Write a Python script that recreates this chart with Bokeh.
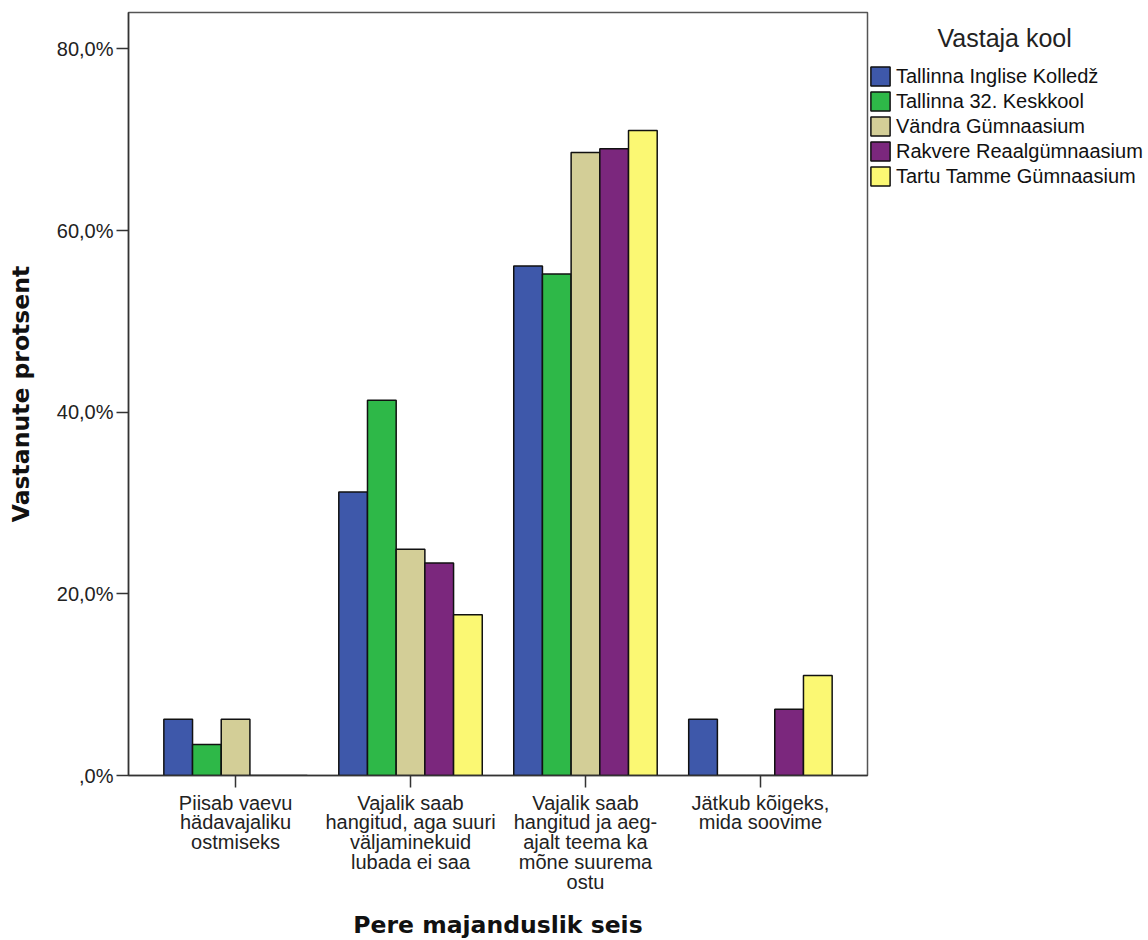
from bokeh.plotting import figure
from bokeh.models import FactorRange, Range1d, Legend, LegendItem, FixedTicker
from bokeh.transform import dodge
from bokeh.embed import file_html
from bokeh.resources import INLINE

categories = [
    "Piisab vaevu\nhädavajaliku\nostmiseks",
    "Vajalik saab\nhangitud, aga suuri\nväljaminekuid\nlubada ei saa",
    "Vajalik saab\nhangitud ja aeg-\najalt teema ka\nmõne suurema\nostu",
    "Jätkub kõigeks,\nmida soovime",
]
schools = [
    "Tallinna Inglise Kolledž",
    "Tallinna 32. Keskkool",
    "Vändra Gümnaasium",
    "Rakvere Reaalgümnaasium",
    "Tartu Tamme Gümnaasium",
]
tallinna_inglise = [6.2, 31.2, 56.1, 6.2]
tallinna_32 = [3.4, 41.3, 55.2, 0.0]
vandra = [6.2, 24.9, 68.6, 0.0]
rakvere = [0.0, 23.4, 69.0, 7.3]
tartu = [0.0, 17.7, 71.0, 11.0]
series = [tallinna_inglise, tallinna_32, vandra, rakvere, tartu]
colors = ["#3E58AA", "#2EB848", "#D3CE97", "#7B277D", "#FBF873"]
y_ticks = [0, 20, 40, 60, 80]
y_tick_labels = [",0%", "20,0%", "40,0%", "60,0%", "80,0%"]
legend_title = "Vastaja kool"

BAR_W = 0.164

p = figure(
    x_range=FactorRange(*categories, range_padding=0.056),
    y_range=Range1d(0, 84),
    frame_width=739, frame_height=763,
    min_border_left=128, min_border_top=12, min_border_bottom=140, min_border_right=10,
    output_backend="svg", toolbar_location=None,
)
p.background_fill_color = "white"
p.border_fill_color = "white"
p.outline_line_color = "#555555"
p.outline_line_width = 1.5
p.xgrid.visible = False
p.ygrid.visible = False

data = {"cat": categories}
for i, s in enumerate(series):
    data[f"s{i}"] = s

items = []
for i, (name, col) in enumerate(zip(schools, colors)):
    off = (i - 2) * BAR_W
    r = p.vbar(x=dodge("cat", off, range=p.x_range), top=f"s{i}", width=BAR_W,
               source=data, fill_color=col, line_color="#111111", line_width=1.5)
    items.append(LegendItem(label=name, renderers=[r]))

# y axis
p.yaxis.ticker = FixedTicker(ticks=y_ticks)
p.yaxis.major_label_overrides = {t: l for t, l in zip(y_ticks, y_tick_labels)}
p.yaxis.minor_tick_line_color = None
p.yaxis.major_tick_in = 0
p.yaxis.major_tick_out = 12
p.yaxis.major_label_standoff = 3
p.yaxis.axis_line_color = "#333333"
p.yaxis.axis_line_width = 1.5
p.yaxis.major_tick_line_color = "#333333"
p.yaxis.major_tick_line_width = 1.5
p.yaxis.major_label_text_font = "Liberation Sans"
p.yaxis.major_label_text_font_size = "20px"
p.yaxis.major_label_text_color = "#222222"
p.yaxis.axis_label = "Vastanute protsent"
p.yaxis.axis_label_text_font = "DejaVu Sans"
p.yaxis.axis_label_text_font_style = "bold"
p.yaxis.axis_label_text_font_size = "23.5px"
p.yaxis.axis_label_text_color = "#111111"
p.yaxis.axis_label_standoff = 19

# x axis
p.xaxis.major_tick_in = 0
p.xaxis.major_tick_out = 12
p.xaxis.axis_line_color = "#333333"
p.xaxis.axis_line_width = 1.5
p.xaxis.major_tick_line_color = "#333333"
p.xaxis.major_tick_line_width = 1.5
p.xaxis.major_label_standoff = 4
p.xaxis.major_label_text_font = "Liberation Sans"
p.xaxis.major_label_text_font_size = "20px"
p.xaxis.major_label_text_line_height = 0.9
p.xaxis.major_label_text_color = "#222222"
p.xaxis.axis_label = "Pere majanduslik seis"
p.xaxis.axis_label_text_font = "DejaVu Sans"
p.xaxis.axis_label_text_font_style = "bold"
p.xaxis.axis_label_text_font_size = "23.5px"
p.xaxis.axis_label_text_color = "#111111"
p.xaxis.axis_label_standoff = 15

legend = Legend(items=items, location=(1, 587), title="\u00a0" * 10 + legend_title)
legend.margin = 0
legend.padding = 0
legend.border_line_color = None
legend.background_fill_alpha = 0
legend.glyph_width = 24
legend.glyph_height = 24
legend.label_height = 20
legend.spacing = 1
legend.label_standoff = 4
legend.label_text_font = "Liberation Sans"
legend.label_text_font_size = "20px"
legend.label_text_color = "#111111"
legend.title_text_font = "Liberation Sans"
legend.title_text_font_size = "25px"
legend.title_text_font_style = "normal"
legend.title_text_color = "#222222"
legend.title_standoff = 11
p.add_layout(legend, "right")

open("out.html", "w").write(file_html(p, INLINE))
